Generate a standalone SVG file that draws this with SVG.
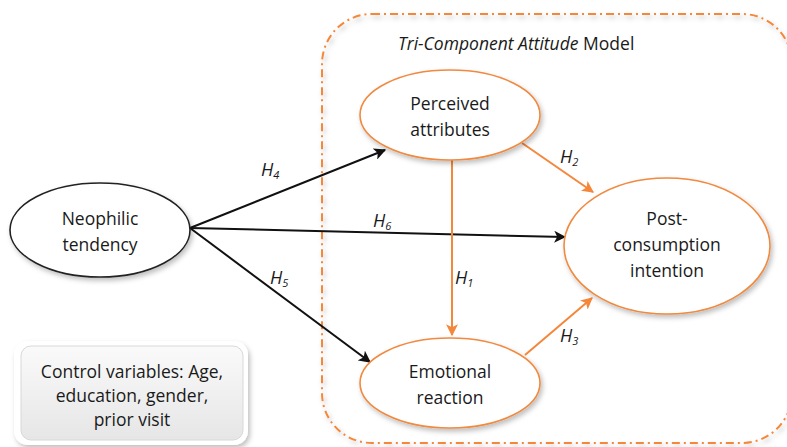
<svg xmlns="http://www.w3.org/2000/svg" width="787" height="447" viewBox="0 0 787 447">
<defs>
<style>
text{font-family:"Open Sans","Liberation Sans",sans-serif;fill:#1a1a1a;}
.lbl{font-size:17.5px;text-anchor:middle;}
.h{font-size:18px;font-style:italic;}
.sub{font-size:11px;}
.oe{fill:#fff;stroke:#f08a40;stroke-width:1.6;filter:url(#sh);}
.be{fill:#fff;stroke:#222;stroke-width:1.6;filter:url(#sh);}
.blk{stroke:#111;stroke-width:2;fill:none;marker-end:url(#ab);}
.org{stroke:#f5873a;stroke-width:2;fill:none;marker-end:url(#ao);}
</style>
<filter id="sh" x="-20%" y="-20%" width="150%" height="150%">
<feDropShadow dx="2" dy="3" stdDeviation="2.5" flood-color="#000" flood-opacity="0.25"/>
</filter>
<linearGradient id="gb" x1="0" y1="0" x2="0" y2="1">
<stop offset="0" stop-color="#fafafa"/>
<stop offset="1" stop-color="#e6e6e6"/>
</linearGradient>
<marker id="ab" viewBox="0 0 10 10" refX="9" refY="5" markerWidth="6" markerHeight="6" orient="auto" markerUnits="strokeWidth">
<path d="M0,0 L10,5 L0,10 L2.5,5 z" fill="#111"/>
</marker>
<marker id="ao" viewBox="0 0 10 10" refX="9" refY="5" markerWidth="6" markerHeight="6" orient="auto" markerUnits="strokeWidth">
<path d="M0,0 L10,5 L0,10 L2.5,5 z" fill="#f5873a"/>
</marker>
</defs>
<rect width="787" height="447" fill="#fff"/>
<g id="tri-component-frame">
<rect x="322" y="14" width="470" height="429" rx="50" fill="none" stroke="#f5873a" stroke-width="2" stroke-dasharray="8,4,2,4" filter="url(#sh)"/>
<text x="398" y="50" font-size="17.5"><tspan font-style="italic">Tri-Component Attitude</tspan> Model</text>
</g>
<g id="connectors">
<line class="blk" x1="190" y1="228" x2="385" y2="150"/>
<line class="blk" x1="190" y1="228" x2="565" y2="237"/>
<line class="blk" x1="190" y1="228" x2="370" y2="362"/>
<line class="org" x1="452" y1="160" x2="452" y2="335"/>
<line class="org" x1="522" y1="143" x2="593" y2="192"/>
<line class="org" x1="525" y1="355" x2="592" y2="298"/>
<text class="h" x="261" y="176">H<tspan class="sub" dy="3">4</tspan></text>
<text class="h" x="373" y="227">H<tspan class="sub" dy="3">6</tspan></text>
<text class="h" x="270" y="284">H<tspan class="sub" dy="3">5</tspan></text>
<text class="h" x="455" y="284">H<tspan class="sub" dy="3">1</tspan></text>
<text class="h" x="560" y="163">H<tspan class="sub" dy="3">2</tspan></text>
<text class="h" x="560" y="342">H<tspan class="sub" dy="3">3</tspan></text>
</g>
<g id="neophilic-tendency">
<ellipse class="be" cx="100" cy="230" rx="90" ry="47"/>
<text class="lbl" x="100" y="225">Neophilic</text>
<text class="lbl" x="100" y="251">tendency</text>
</g>
<g id="perceived-attributes">
<ellipse class="oe" cx="450" cy="115" rx="90" ry="45"/>
<text class="lbl" x="450" y="110">Perceived</text>
<text class="lbl" x="450" y="136">attributes</text>
</g>
<g id="emotional-reaction">
<ellipse class="oe" cx="450" cy="383" rx="90" ry="45"/>
<text class="lbl" x="450" y="378">Emotional</text>
<text class="lbl" x="450" y="404">reaction</text>
</g>
<g id="post-consumption-intention">
<ellipse class="oe" cx="667" cy="246" rx="103" ry="68"/>
<text class="lbl" x="667" y="225">Post-</text>
<text class="lbl" x="667" y="251">consumption</text>
<text class="lbl" x="667" y="277">intention</text>
</g>
<g id="control-variables">
<rect x="14" y="341" width="234" height="104" rx="14" fill="#fff" filter="url(#sh)"/>
<rect x="21" y="346" width="222" height="94" rx="10" fill="url(#gb)" stroke="#d8d8d8" stroke-width="1"/>
<text class="lbl" x="132" y="378" font-size="16">Control variables: Age,</text>
<text class="lbl" x="132" y="402" font-size="16">education, gender,</text>
<text class="lbl" x="132" y="426" font-size="16">prior visit</text>
</g>
</svg>
